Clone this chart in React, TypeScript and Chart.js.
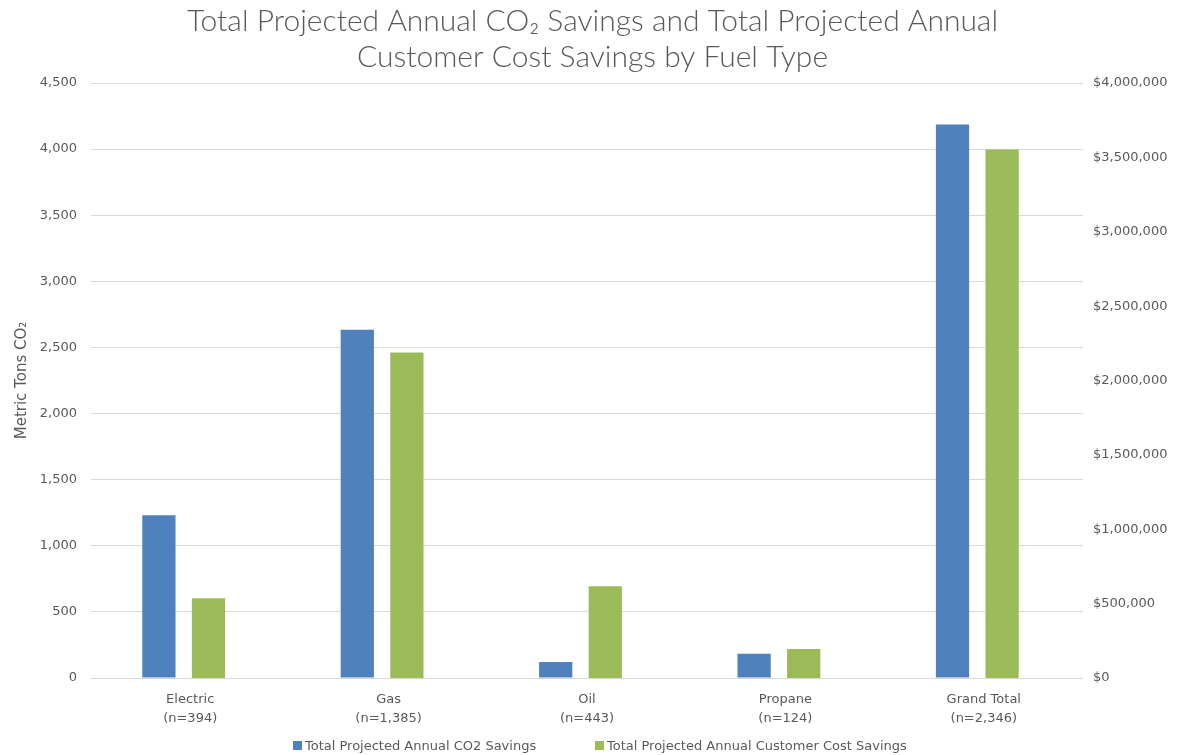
import React, { useEffect, useRef } from "react";
import { Chart, registerables } from "chart.js";

Chart.register(...registerables);

const titleLines = [
  "Total Projected Annual CO\u2082 Savings and Total Projected Annual",
  "Customer Cost Savings by Fuel Type",
];
const categories = [
  ["Electric", "(n=394)"],
  ["Gas", "(n=1,385)"],
  ["Oil", "(n=443)"],
  ["Propane", "(n=124)"],
  ["Grand Total", "(n=2,346)"],
];
const seriesNames = [
  "Total Projected Annual CO2 Savings",
  "Total Projected Annual Customer Cost Savings",
];
const co2Savings = [1230, 2633, 121, 184, 4187];
const costSavings = [536000, 2188000, 617000, 195000, 3553000];
const leftAxisTitle = "Metric Tons CO\u2082";
const leftMax = 4500;
const leftStep = 500;
const rightMax = 4000000;
const rightStep = 500000;

const BLUE = "#4f81bd";
const GREEN = "#9bbb59";
const TEXT = "#595959";
const GRID = "#d9d9d9";
const SMALL = "'DejaVu Sans', sans-serif";
const BAR_SHIFT = -6.5;

// The original's bar groups sit a few pixels left of their category labels.
const barShiftPlugin = {
  id: "barShift",
  afterDatasetsUpdate(chart: any) {
    chart.data.datasets.forEach((_: any, i: number) => {
      const meta = chart.getDatasetMeta(i);
      meta.data.forEach((el: any) => {
        el.x += BAR_SHIFT;
      });
    });
  },
};

export default function App() {
  const ref = useRef<HTMLCanvasElement | null>(null);

  useEffect(() => {
    if (!ref.current) return;
    const chart = new Chart(ref.current, {
      type: "bar",
      data: {
        labels: categories,
        datasets: [
          {
            label: seriesNames[0],
            data: co2Savings,
            backgroundColor: BLUE,
            yAxisID: "y",
            categoryPercentage: 0.5,
            barPercentage: 0.67,
          },
          {
            label: seriesNames[1],
            data: costSavings,
            backgroundColor: GREEN,
            yAxisID: "y1",
            categoryPercentage: 0.5,
            barPercentage: 0.67,
          },
        ],
      },
      plugins: [barShiftPlugin],
      options: {
        responsive: false,
        animation: false,
        devicePixelRatio: 1,
        layout: { padding: { left: 0, right: 0, top: 0, bottom: 27 } },
        plugins: {
          legend: { display: false },
          tooltip: { enabled: false },
          title: {
            display: true,
            text: titleLines,
            color: TEXT,
            font: { family: "Lato, sans-serif", size: 30, weight: "300", lineHeight: 1.2 },
            padding: { top: 3, bottom: 8 },
          },
        },
        scales: {
          x: {
            grid: { display: false, drawTicks: false },
            border: { display: false },
            ticks: {
              color: TEXT,
              font: { family: SMALL, size: 13, lineHeight: 1.45 },
              padding: 12,
              maxRotation: 0,
              autoSkip: false,
            },
            afterFit: (s: any) => {
              s.height = 50;
            },
          },
          y: {
            position: "left",
            min: 0,
            max: leftMax,
            grid: { color: GRID, lineWidth: 1, drawTicks: false },
            border: { display: false },
            ticks: {
              stepSize: leftStep,
              color: TEXT,
              font: { family: SMALL, size: 13 },
              padding: 14,
              callback: (v: any) => Number(v).toLocaleString("en-US"),
            },
            title: {
              display: true,
              text: leftAxisTitle,
              color: TEXT,
              font: { family: SMALL, size: 15 },
              padding: { top: 13, bottom: 0 },
            },
            afterFit: (s: any) => {
              s.width = 91;
            },
          },
          y1: {
            position: "right",
            min: 0,
            max: rightMax,
            grid: { display: false, drawTicks: false },
            border: { display: false },
            ticks: {
              stepSize: rightStep,
              color: TEXT,
              font: { family: SMALL, size: 13 },
              padding: 10,
              callback: (v: any) => "$" + Number(v).toLocaleString("en-US"),
            },
            afterFit: (s: any) => {
              s.width = 102;
            },
          },
        },
      },
    });
    return () => chart.destroy();
  }, []);

  const legendItem = (i: number, color: string, left: number) => (
    <div
      key={i}
      style={{
        position: "absolute",
        left,
        top: 737,
        height: 16,
        display: "flex",
        alignItems: "center",
        fontFamily: SMALL,
        fontSize: 13,
        color: TEXT,
        whiteSpace: "nowrap",
      }}
    >
      <span
        style={{
          display: "inline-block",
          width: 9,
          height: 9,
          background: color,
          marginRight: 3,
        }}
      />
      <span>{seriesNames[i]}</span>
    </div>
  );

  return (
    <div
      style={{
        position: "absolute",
        left: 0,
        top: 0,
        width: 1185,
        height: 755,
        background: "#ffffff",
      }}
    >
      <canvas ref={ref} width={1185} height={755} style={{ display: "block" }} />
      {legendItem(0, BLUE, 293)}
      {legendItem(1, GREEN, 595)}
    </div>
  );
}
